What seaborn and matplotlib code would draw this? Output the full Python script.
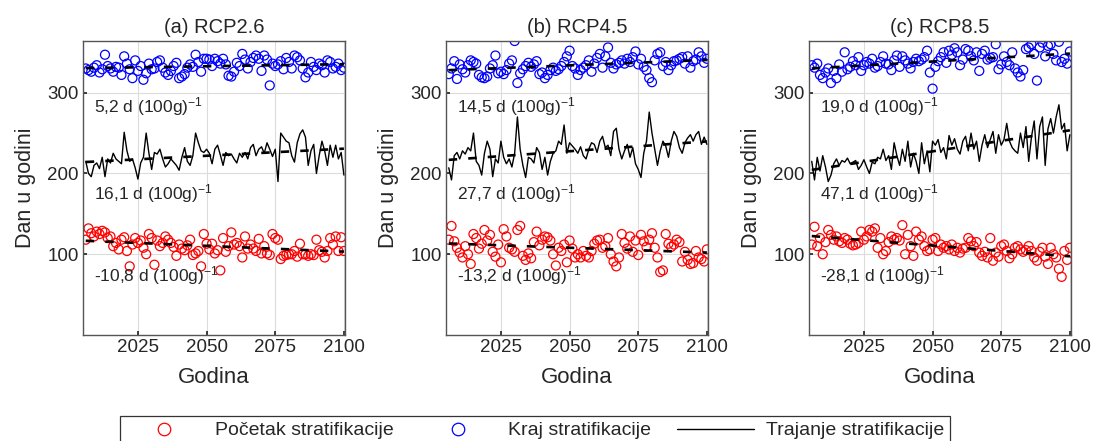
import numpy as np
import pandas as pd
import matplotlib
matplotlib.use('Agg')
import matplotlib.pyplot as plt
import seaborn as sns
from matplotlib.lines import Line2D

godine = list(range(2006, 2101))

# kraj stratifikacije (plavo)
kraj_26 = [330, 328, 326, 331, 334, 325, 329, 347, 333, 330,
           326, 332, 331, 322, 345, 336, 329, 318, 340, 327,
           333, 316, 324, 336, 329, 330, 338, 340, 331, 325,
           322, 327, 333, 337, 318, 320, 323, 331, 335, 332,
           347, 338, 326, 342, 342, 341, 333, 342, 339, 336,
           342, 335, 321, 320, 326, 337, 333, 348, 341, 330,
           338, 343, 346, 342, 327, 346, 341, 309, 336, 333,
           335, 339, 329, 343, 338, 330, 346, 344, 340, 330,
           319, 325, 338, 332, 328, 336, 334, 325, 340, 338,
           330, 332, 336, 328, 331]
kraj_45 = [323, 330, 339, 317, 335, 329, 325, 334, 340, 338,
           336, 322, 319, 318, 320, 330, 334, 346, 324, 326,
           323, 328, 336, 340, 364, 312, 324, 329, 333, 337,
           332, 335, 339, 323, 325, 318, 322, 328, 331, 327,
           329, 333, 338, 345, 352, 333, 330, 322, 328, 331,
           334, 340, 326, 336, 343, 348, 331, 345, 356, 337,
           330, 335, 337, 340, 336, 342, 338, 344, 351, 335,
           342, 332, 328, 318, 313, 340, 348, 350, 333, 338,
           328, 334, 339, 340, 342, 344, 336, 345, 331, 339,
           341, 350, 345, 337, 342]
kraj_85 = [334, 331, 336, 322, 318, 325, 330, 312, 327, 318,
           335, 326, 350, 329, 332, 339, 334, 344, 327, 334,
           338, 336, 342, 331, 333, 338, 345, 336, 335, 328,
           340, 346, 332, 345, 340, 336, 330, 338, 342, 339,
           341, 344, 352, 325, 305, 332, 339, 344, 350, 337,
           352, 347, 355, 350, 334, 341, 354, 352, 345, 340,
           350, 327, 348, 352, 341, 343, 344, 360, 329, 335,
           345, 338, 334, 350, 330, 325, 320, 328, 354, 356,
           360, 348, 315, 356, 362, 345, 358, 360, 348, 340,
           363, 338, 342, 336, 351]

# pocetak stratifikacije (crveno)
pocetak_26 = [118, 132, 126, 122, 128, 125, 129, 127, 120, 122,
              110, 114, 106, 118, 121, 104, 85, 112, 120, 114,
              117, 108, 100, 125, 120, 87, 117, 110, 114, 122,
              118, 114, 109, 98, 112, 107, 105, 111, 118, 99,
              101, 104, 85, 125, 113, 106, 113, 101, 105, 80,
              120, 103, 110, 127, 112, 114, 110, 96, 122, 107,
              112, 107, 104, 119, 101, 110, 101, 99, 125, 120,
              118, 94, 98, 99, 100, 100, 104, 97, 113, 100,
              100, 98, 100, 99, 118, 105, 103, 96, 104, 120,
              112, 122, 104, 121, 104]
pocetak_45 = [118, 135, 116, 108, 102, 96, 110, 100, 88, 125,
              120, 107, 113, 130, 117, 124, 103, 97, 112, 90,
              131, 122, 108, 106, 103, 130, 135, 98, 93, 101,
              95, 115, 128, 111, 118, 122, 121, 117, 100, 86,
              108, 104, 112, 90, 117, 107, 96, 100, 96, 104,
              98, 96, 104, 113, 117, 118, 108, 110, 120, 100,
              91, 85, 96, 125, 114, 107, 122, 103, 117, 99,
              124, 116, 109, 118, 126, 108, 96, 78, 80, 125,
              113, 109, 112, 118, 115, 91, 103, 93, 88, 89,
              104, 96, 94, 91, 106]
pocetak_85 = [112, 134, 110, 120, 100, 115, 130, 124, 118, 122,
              116, 114, 120, 118, 113, 111, 112, 114, 128, 118,
              122, 130, 128, 132, 108, 120, 100, 104, 115, 122,
              118, 120, 117, 136, 100, 124, 110, 98, 128, 118,
              122, 110, 104, 106, 118, 120, 104, 112, 108, 110,
              106, 112, 104, 108, 102, 107, 108, 120, 116, 110,
              115, 102, 98, 103, 96, 120, 92, 102, 97, 110,
              112, 104, 95, 100, 108, 110, 106, 103, 105, 110,
              104, 96, 92, 103, 108, 97, 88, 108, 100, 96,
              82, 72, 104, 93, 108]

# trajanje stratifikacije (crna linija)
trajanje_26 = [215, 200, 196, 210, 213, 206, 220, 196, 218, 213,
               225, 218, 215, 212, 251, 228, 215, 218, 207, 193,
               213, 220, 250, 225, 205, 226, 224, 230, 218, 208,
               212, 218, 214, 210, 204, 220, 232, 215, 210, 222,
               250, 238, 228, 226, 230, 225, 212, 230, 235, 223,
               210, 226, 222, 224, 218, 213, 225, 220, 226, 218,
               232, 236, 222, 230, 233, 225, 238, 230, 221, 230,
               190, 250, 245, 240, 238, 222, 214, 238, 249, 254,
               245, 210, 228, 236, 200, 222, 240, 228, 210, 235,
               220, 235, 218, 226, 198]
trajanje_45 = [207, 192, 222, 226, 218, 228, 224, 232, 228, 250,
               215, 210, 198, 225, 240, 230, 196, 218, 213, 240,
               220, 212, 218, 208, 225, 270, 230, 210, 195, 220,
               218, 213, 232, 226, 205, 220, 198, 215, 225, 228,
               240, 236, 260, 225, 238, 234, 230, 225, 233, 222,
               218, 230, 238, 236, 226, 240, 246, 232, 235, 222,
               252, 256, 230, 218, 228, 236, 220, 232, 212, 205,
               195, 225, 240, 276, 250, 230, 210, 228, 240, 234,
               220, 240, 252, 246, 232, 225, 238, 244, 248, 240,
               248, 252, 236, 245, 236]
trajanje_85 = [215, 192, 220, 203, 222, 208, 190, 198, 212, 218,
               210, 216, 214, 219, 212, 214, 216, 205, 210, 217,
               208, 200, 214, 212, 220, 218, 230, 216, 222, 205,
               238, 222, 210, 230, 215, 240, 208, 225, 215, 200,
               238, 212, 228, 202, 240, 235, 242, 226, 232, 218,
               247, 235, 243, 230, 224, 240, 246, 228, 250, 230,
               240, 215, 235, 248, 232, 242, 252, 225, 248, 235,
               242, 262, 240, 232, 228, 225, 250, 232, 258, 215,
               245, 265, 218, 258, 270, 210, 255, 268, 250, 270,
               285, 255, 262, 228, 248]

naslovi = ['(a) RCP2.6', '(b) RCP4.5', '(c) RCP8.5']
trend_kraj = ['5,2', '14,5', '19,0']
trend_traj = ['16,1', '27,7', '47,1']
trend_poc = ['-10,8', '-13,2', '-28,1']

sns.set_theme(style='whitegrid')
plt.rcParams['font.family'] = ['Liberation Sans', 'DejaVu Sans']
plt.rcParams['mathtext.default'] = 'regular'

siva = '#262626'
fig = plt.figure(figsize=(10.94, 4.41), dpi=100)
lijevo = [83, 446, 809]
sirina = 262

podaci = [(kraj_26, pocetak_26, trajanje_26),
          (kraj_45, pocetak_45, trajanje_45),
          (kraj_85, pocetak_85, trajanje_85)]

for i, (kraj, poc, traj) in enumerate(podaci):
    ax = fig.add_axes([lijevo[i] / 1094, 106 / 441, sirina / 1094, 294 / 441])
    df = pd.DataFrame({'god': godine, 'kraj': kraj, 'poc': poc, 'traj': traj})

    sns.lineplot(data=df, x='god', y='traj', color='black', lw=1.0, ax=ax)
    sns.scatterplot(data=df, x='god', y='poc', marker='o', s=42,
                    facecolors='none', edgecolor='red', linewidth=0.9, ax=ax)
    sns.scatterplot(data=df, x='god', y='kraj', marker='o', s=42,
                    facecolors='none', edgecolor='blue', linewidth=0.9, ax=ax)

    # linearni trendovi
    for stupac in ['kraj', 'poc', 'traj']:
        k, b = np.polyfit(df['god'], df[stupac], 1)
        ax.plot(df['god'], k * df['god'] + b, color='black', lw=1.9,
                dashes=(3.2, 4.2))

    oznaka = ' d (100g)$^{-1}$'
    ax.text(2009, 283, trend_kraj[i] + oznaka, fontsize=12.5, va='center', color=siva)
    ax.text(2009, 175, trend_traj[i] + oznaka, fontsize=12.5, va='center', color=siva)
    ax.text(2009, 74, trend_poc[i] + oznaka, fontsize=12.5, va='center', color=siva)

    ax.set_xlim(2005, 2100.4)
    ax.set_ylim(0, 364)
    ax.set_xticks([2025, 2050, 2075, 2100])
    ax.set_yticks([100, 200, 300])
    ax.set_title(naslovi[i], fontsize=14.5, color=siva, pad=6)
    ax.set_xlabel('Godina', fontsize=16, color=siva, labelpad=8)
    ax.set_ylabel('Dan u godini', fontsize=15.5, color=siva, labelpad=8)
    ax.tick_params(labelsize=13.5, colors=siva, direction='in', length=3,
                   left=True, bottom=True, pad=3)
    ax.grid(color='#dcdcdc', lw=0.8)
    for s in ax.spines.values():
        s.set_color('#555555')
        s.set_linewidth(1.0)
    ax.set_facecolor('white')

elementi = [
    Line2D([], [], marker='o', ls='', mfc='none', mec='red', ms=9, mew=0.9,
           label='Početak stratifikacije'),
    Line2D([], [], marker='o', ls='', mfc='none', mec='blue', ms=9, mew=0.9,
           label='Kraj stratifikacije'),
    Line2D([], [], color='black', lw=1.0, label='Trajanje stratifikacije'),
]
leg = fig.legend(handles=elementi, loc='upper center', ncol=3,
                 bbox_to_anchor=(0.489, 0.057), borderaxespad=0,
                 fontsize=14, frameon=True, fancybox=False, edgecolor='black',
                 borderpad=0.3, handlelength=4.0, handletextpad=0.6,
                 columnspacing=1.3)
leg.get_frame().set_linewidth(0.9)

fig.savefig('out.png', dpi=100)
